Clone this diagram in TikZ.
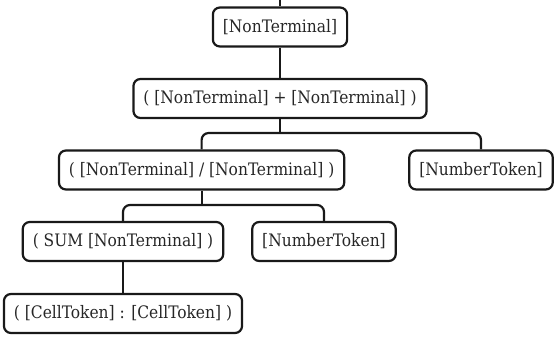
\documentclass[tikz,border=0pt]{standalone}
\usepackage{fontspec}
\setmainfont{DejaVu Serif Condensed}

\tikzset{
  term/.style={draw=black!90, line width=2.2pt, rounded corners=7pt,
    minimum height=39pt, inner xsep=10pt, text=black!85,
    font=\fontsize{17.2}{20}\selectfont},
  link/.style={draw=black!90, line width=2.2pt, rounded corners=7pt}
}

\begin{document}
\begin{tikzpicture}[x=1pt,y=-1pt]
  % Frame of the picture
  \useasboundingbox (0,0) rectangle (557,338);

  % Define the nodes of the parse tree
  \node[term] (root) at (280,27) {[NonTerminal]};
  \node[term] (plus) at (280,98.5) {( [NonTerminal] + [NonTerminal] )};
  \node[term] (div) at (201.6,170) {( [NonTerminal] / [NonTerminal] )};
  \node[term] (numA) at (481,170) {[NumberToken]};
  \node[term] (sum) at (123,241.5) {( SUM [NonTerminal] )};
  \node[term] (numB) at (324,241.5) {[NumberToken]};
  \node[term] (range) at (123,313.5) {( [CellToken] : [CellToken] )};

  % Junction points
  \coordinate (entry) at (280,0);
  \coordinate (splitA) at (280,133);
  \coordinate (splitB) at (201.6,205);

  % Draw the connectors
  \draw[link] (entry) -- (root.north);
  \draw[link] (root.south) -- (plus.north);
  \draw[link] (plus.south) -- (splitA);
  \draw[link] (div.north) |- (splitA) -| (numA.north);
  \draw[link] (div.south) -- (splitB);
  \draw[link] (sum.north) |- (splitB) -| (numB.north);
  \draw[link] (sum.south) -- (range.north);
\end{tikzpicture}
\end{document}
